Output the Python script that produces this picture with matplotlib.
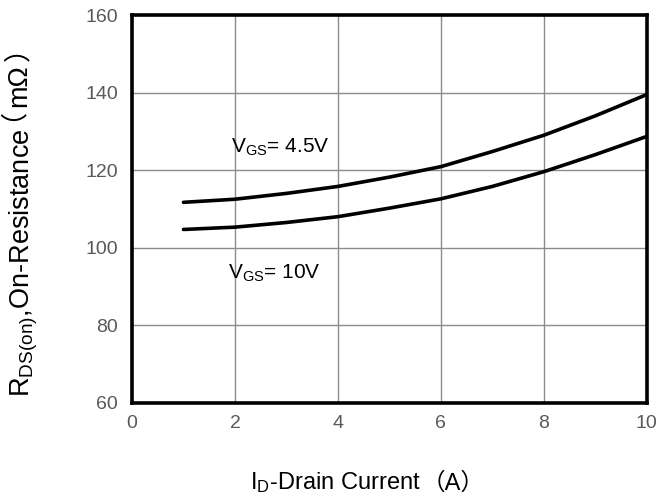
"""
Rds(on) vs drain current plot
"""
import matplotlib
matplotlib.use('Agg')
import matplotlib.pyplot as plt
import numpy as np

# data
current = [1, 2, 3, 4, 5, 6, 7, 8, 9, 10]
rds_45v = [111.7, 112.5, 114.0, 115.8, 118.2, 120.9, 124.8, 129.0, 134.0, 139.5]
rds_10v = [104.7, 105.3, 106.5, 108.0, 110.2, 112.6, 115.8, 119.6, 124.0, 128.7]
x_ticks = [0, 2, 4, 6, 8, 10]
y_ticks = [60, 80, 100, 120, 140, 160]

fam = ['Liberation Sans', 'Noto Sans CJK SC', 'DejaVu Sans']
plt.rcParams['font.family'] = fam
plt.rcParams.update({'mathtext.fontset': 'custom',
                     'mathtext.rm': 'Liberation Sans',
                     'mathtext.it': 'Liberation Sans',
                     'mathtext.default': 'regular'})

fig = plt.figure(figsize=(6.6, 5.01), dpi=100)
ax = fig.add_axes([0.2, 0.196, 0.78, 0.774])

ax.plot(current, rds_45v, color='black', lw=2.6, solid_capstyle='round')
ax.plot(current, rds_10v, color='black', lw=2.6, solid_capstyle='round')

ax.set_xlim(0, 10)
ax.set_ylim(60, 160)
ax.set_xticks(x_ticks)
ax.set_yticks(y_ticks)
ax.grid(True, color='#8c8c8c', lw=1.0)
ax.tick_params(length=0, labelsize=14, labelcolor='#595959')
ax.tick_params(axis='y', pad=10)
ax.tick_params(axis='x', pad=9)
for s in ax.spines.values():
    s.set_linewidth(2.6)

ax.text(1.92, 126, 'V$_{GS}$= 4.5V', fontsize=15, va='center')
ax.text(1.86, 93.5, 'V$_{GS}$= 10V', fontsize=15, va='center')

# labels: mathtext part + full-width brackets as a separate text
xl = ax.set_xlabel('I$_{D}$-Drain Current', fontsize=17, va='center')
ax.xaxis.set_label_coords(0.396, -0.205)
ax.annotate('（A）', xy=(1, 0), xycoords=xl, ha='left', va='bottom',
            fontsize=17, family=fam)

ax.set_ylabel('R$_{DS(on)}$,On-Resistance', fontsize=19.5, va='center')
ax.yaxis.set_label_coords(-0.21, 0.36)
# unit part of the y label, pieces placed along the rotated label
for txt, xx, yy in [('（', -0.260, 0.762), ('mΩ', -0.219, 0.817), ('）', -0.219, 0.916)]:
    ax.text(xx, yy, txt, transform=ax.transAxes, rotation=90,
            ha='center', va='center', fontsize=19.5, family=fam)

plt.savefig('out.png', dpi=100)
